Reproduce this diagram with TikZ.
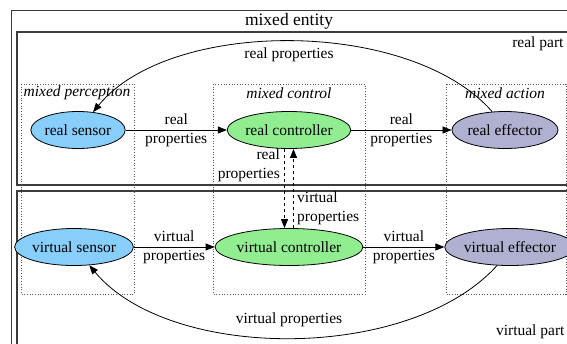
\documentclass[tikz,border=0pt]{standalone}
\usepackage{fontspec}
\setmainfont{Liberation Serif}
\newfontfamily\tms{Liberation Serif}
\usetikzlibrary{shapes.geometric,arrows.meta}
\definecolor{sensorfill}{RGB}{135,206,250}
\definecolor{ctrlfill}{RGB}{144,238,144}
\definecolor{efffill}{RGB}{176,176,208}
\definecolor{boxline}{RGB}{60,60,60}
\begin{document}
\begin{tikzpicture}[x=1pt,y=-1pt,
  every node/.style={font=\tms\fontsize{15.5}{18.6}\selectfont},
  ent/.style={ellipse,draw,line width=0.8pt,minimum height=37pt,inner sep=0pt},
  arr/.style={-{Triangle[length=9pt,width=7pt]},line width=0.8pt},
  cluster/.style={dotted,line width=0.7pt,gray!70!black},
  clabel/.style={font=\tms\fontsize{15.5}{18.6}\selectfont\itshape},
  elabel/.style={align=center,inner sep=1pt}]
\useasboundingbox (0,0) rectangle (567,343);
\clip (0,0) rectangle (567,343);
\fill[white] (0,0) rectangle (567,343);
% frames
\draw[boxline,line width=0.9pt] (11,10) rectangle (620,400);
\draw[boxline,line width=1.1pt] (17,32) rectangle (620,185);
\draw[boxline,line width=1.1pt] (17,191) rectangle (620,400);
\node[font=\tms\fontsize{17.5}{21}\selectfont] (title) at (289,21) {mixed entity};
\node[anchor=east] (rpart) at (567,44) {real part};
\node[anchor=east] (vpart) at (568,332) {virtual part};
% clusters
\draw[cluster] (21,84) rectangle (134,294);
\draw[cluster] (213,84) rectangle (365,294);
\draw[cluster] (446,84) rectangle (566,294);
\node[clabel] (lperc) at (77,93) {mixed perception};
\node[clabel] (lctrl) at (289,93) {mixed control};
\node[clabel] (lact) at (505,93) {mixed action};
% nodes
\node[ent,fill=sensorfill,minimum width=84pt] (rs) at (78,130) {real sensor};
\node[ent,fill=ctrlfill,minimum width=118pt] (rc) at (289,130) {real controller};
\node[ent,fill=efffill,minimum width=92pt] (re) at (505,130) {real effector};
\node[ent,fill=sensorfill,minimum width=94pt] (vs) at (74,247) {virtual sensor};
\node[ent,fill=ctrlfill,minimum width=127pt] (vc) at (289,247) {virtual controller};
\node[ent,fill=efffill,minimum width=103pt] (ve) at (510,247) {virtual effector};
% straight edges
\draw[arr] (rs) -- (rc) node[midway,elabel] (l1) {real\\properties};
\draw[arr] (rc) -- (re) node[midway,elabel] (l2) {real\\properties};
\draw[arr] (vs) -- (vc) node[midway,elabel] (l3) {virtual\\properties};
\draw[arr] (vc) -- (ve) node[midway,elabel] (l4) {virtual\\properties};
% dashed edges
\draw[arr,dashed] ([xshift=-4.5pt]rc.south) -- ([xshift=-4.5pt]vc.north);
\draw[arr,dashed] ([xshift=4.5pt]vc.north) -- ([xshift=4.5pt]rc.south);
\node[align=right,anchor=east,inner sep=1pt] (l5) at (281,165) {real\\properties};
\node[align=left,anchor=west,inner sep=1pt] (l6) at (296,208) {virtual\\properties};
% curved edges
\draw[arr] (re.125) .. controls (410,18) and (170,18) .. (rs.50);
\node (l7) at (289,55) {real properties};
\draw[arr] (ve.235) .. controls (410,362) and (170,362) .. (vs.-50);
\node (l8) at (289,320) {virtual properties};
\end{tikzpicture}
\end{document}
